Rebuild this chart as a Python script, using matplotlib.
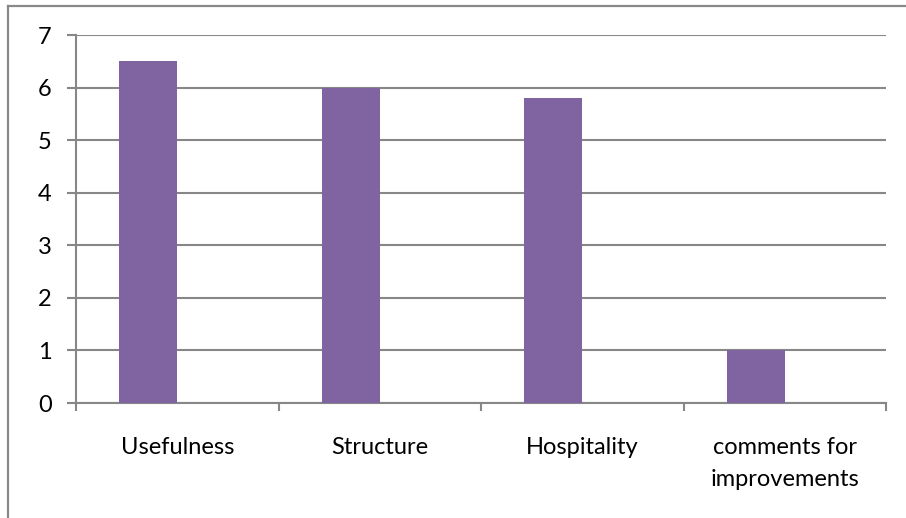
import matplotlib
matplotlib.use("Agg")
import matplotlib.pyplot as plt
from matplotlib.lines import Line2D
from matplotlib.ticker import FixedLocator

categories = ["Usefulness", "Structure", "Hospitality", "comments for\nimprovements"]
values = [6.5, 6.0, 5.8, 1.0]
y_ticks = [0, 1, 2, 3, 4, 5, 6, 7]

plt.rcParams['font.family'] = ['Lato', 'DejaVu Sans']

bar_color = "#8064A2"
grid_color = "#878787"

fig = plt.figure(figsize=(9.06, 5.18), dpi=100)
ax = fig.add_axes([76 / 906, 1 - 403 / 518, 810 / 906, 368 / 518])

# Excel style: two series per category, the second one empty
n = len(categories)
w = 1 / 3.5
xs = list(range(n))
ax.bar([x - w for x in xs], values, width=w, align="edge", color=bar_color, zorder=3)

ax.set_xlim(-0.5, n - 0.5)
ax.set_ylim(0, 7)
ax.set_yticks(y_ticks)
ax.yaxis.grid(True, color=grid_color, linewidth=1.5)
ax.set_axisbelow(True)

for side in ["top", "right"]:
    ax.spines[side].set_visible(False)
for side in ["left", "bottom"]:
    ax.spines[side].set_color(grid_color)
    ax.spines[side].set_linewidth(1.5)

ax.tick_params(axis="y", length=6.5, width=1.5, color=grid_color, pad=11,
               labelsize=17)
ax.xaxis.set_major_locator(FixedLocator([x - 0.5 for x in range(n + 1)]))
ax.xaxis.set_minor_locator(FixedLocator(xs))
ax.set_xticklabels([], minor=False)
ax.set_xticklabels(categories, minor=True, fontsize=17, linespacing=1.65)
ax.tick_params(axis="x", which="major", length=6, width=1.5, color=grid_color)
ax.tick_params(axis="x", which="minor", length=0, pad=24.5)

# chart border (left and top visible)
fig.add_artist(Line2D([7.5 / 906, 7.5 / 906], [0, 1 - 5.5 / 518],
                      transform=fig.transFigure, color="#898989", linewidth=1.6))
fig.add_artist(Line2D([7.5 / 906, 1], [1 - 5.5 / 518, 1 - 5.5 / 518],
                      transform=fig.transFigure, color="#898989", linewidth=1.6))

fig.savefig("out.png", dpi=100)
